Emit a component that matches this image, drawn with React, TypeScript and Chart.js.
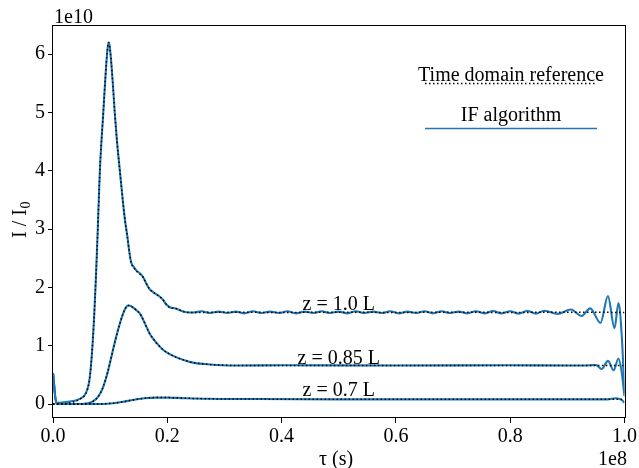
import React, { useEffect, useRef } from "react";
import { Chart, registerables } from "chart.js";
Chart.register(...registerables);

const FONT = '"Liberation Serif", "Times New Roman", serif';

// τ in units of 1e8 s, I/I0 in units of 1e10
const xTicks = [0, 0.2, 0.4, 0.6, 0.8, 1.0];
const yTicks = [0, 1, 2, 3, 4, 5, 6];

const legendLabels = ["Time domain reference", "IF algorithm"];
const curveLabels = ["z = 1.0 L", "z = 0.85 L", "z = 0.7 L"];
const curveLabelY = [1.61, 0.686, 0.137];

// z = 1.0 L
const refX_z10 = [0, 0.02, 0.03, 0.04, 0.05, 0.055, 0.06, 0.064, 0.068, 0.072, 0.075, 0.078, 0.082, 0.088, 0.092, 0.095, 0.097, 0.099, 0.102, 0.105, 0.108, 0.112, 0.117, 0.122, 0.126, 0.13, 0.134, 0.137, 0.142, 0.146, 0.152, 0.158, 0.163, 0.169, 0.175, 0.181, 0.187, 0.193, 0.198, 0.204, 0.21, 0.216, 0.224, 0.233, 0.245, 0.3, 0.4, 0.5, 0.6, 0.7, 0.8, 0.9, 1.0];
const refY_z10 = [0, 0.005, 0.02, 0.05, 0.1, 0.14, 0.24, 0.42, 0.85, 1.5, 2.15, 2.9, 4.0, 5.0, 5.65, 6.05, 6.2, 6.15, 5.85, 5.45, 5.0, 4.5, 4.0, 3.5, 3.15, 2.88, 2.58, 2.42, 2.33, 2.28, 2.23, 2.17, 2.07, 1.97, 1.92, 1.88, 1.84, 1.78, 1.71, 1.66, 1.645, 1.635, 1.6, 1.575, 1.57, 1.575, 1.57, 1.575, 1.57, 1.575, 1.57, 1.575, 1.57];

const ifX_z10 = [0, 0.006, 0.02, 0.035, 0.045, 0.055, 0.06, 0.064, 0.068, 0.072, 0.075, 0.078, 0.082, 0.088, 0.092, 0.095, 0.097, 0.099, 0.102, 0.105, 0.108, 0.112, 0.117, 0.122, 0.126, 0.13, 0.134, 0.137, 0.142, 0.146, 0.152, 0.158, 0.163, 0.169, 0.175, 0.181, 0.187, 0.193, 0.198, 0.204, 0.21, 0.216, 0.224, 0.233, 0.245,
  0.26, 0.275, 0.29, 0.305, 0.32, 0.335, 0.35, 0.365, 0.38, 0.395,
  0.41, 0.425, 0.44, 0.455, 0.47, 0.485, 0.5, 0.515, 0.53, 0.545,
  0.56, 0.575, 0.59, 0.605, 0.62, 0.635, 0.65, 0.665, 0.68, 0.695,
  0.71, 0.725, 0.74, 0.755, 0.77, 0.785, 0.8, 0.815, 0.83, 0.845,
  0.86, 0.883, 0.906, 0.925, 0.94, 0.958, 0.971, 0.9825, 0.9895, 0.995, 1.0];
const ifY_z10 = [0.53, 0.02, 0.03, 0.05, 0.08, 0.15, 0.25, 0.43, 0.85, 1.5, 2.15, 2.9, 4.0, 5.0, 5.65, 6.05, 6.2, 6.15, 5.85, 5.45, 5.0, 4.5, 4.0, 3.5, 3.15, 2.88, 2.58, 2.42, 2.34, 2.29, 2.24, 2.17, 2.07, 1.97, 1.92, 1.88, 1.84, 1.78, 1.71, 1.66, 1.645, 1.635, 1.6, 1.575, 1.57,
  1.59, 1.56, 1.585, 1.56, 1.585, 1.555, 1.59, 1.56, 1.585, 1.56,
  1.59, 1.555, 1.585, 1.56, 1.59, 1.56, 1.585, 1.555, 1.59, 1.56,
  1.585, 1.56, 1.59, 1.555, 1.585, 1.56, 1.59, 1.555, 1.59, 1.56,
  1.585, 1.555, 1.59, 1.555, 1.595, 1.555, 1.59, 1.55, 1.595, 1.55,
  1.6, 1.545, 1.62, 1.51, 1.64, 1.39, 1.85, 1.3, 1.73, 1.2, 0.19];

// z = 0.85 L
const refX_z085 = [0, 0.04, 0.055, 0.065, 0.075, 0.082, 0.088, 0.095, 0.1, 0.105, 0.11, 0.117, 0.123, 0.128, 0.1315, 0.136, 0.142, 0.147, 0.152, 0.16, 0.169, 0.18, 0.1925, 0.205, 0.216, 0.23, 0.245, 0.265, 0.286, 0.326, 0.4, 0.6, 0.8, 1.0];
const refY_z085 = [0, 0, 0.005, 0.02, 0.08, 0.17, 0.3, 0.52, 0.72, 0.93, 1.13, 1.38, 1.56, 1.66, 1.69, 1.68, 1.64, 1.6, 1.55, 1.4, 1.21, 1.06, 0.93, 0.85, 0.8, 0.75, 0.71, 0.685, 0.67, 0.66, 0.66, 0.66, 0.66, 0.66];

const ifX_z085 = [0, 0.006, 0.04, 0.055, 0.065, 0.075, 0.082, 0.088, 0.095, 0.1, 0.105, 0.11, 0.117, 0.123, 0.128, 0.1315, 0.136, 0.142, 0.147, 0.152, 0.16, 0.169, 0.18, 0.1925, 0.205, 0.216, 0.23, 0.245, 0.265, 0.286, 0.326, 0.4, 0.6, 0.8, 0.9, 0.94, 0.95, 0.96, 0.971, 0.981, 0.9895, 0.995, 1.0];
const ifY_z085 = [0.53, 0.0, 0.0, 0.005, 0.02, 0.08, 0.17, 0.3, 0.52, 0.72, 0.93, 1.13, 1.38, 1.56, 1.66, 1.69, 1.68, 1.64, 1.6, 1.55, 1.4, 1.21, 1.06, 0.93, 0.85, 0.8, 0.75, 0.71, 0.685, 0.67, 0.66, 0.665, 0.66, 0.665, 0.66, 0.665, 0.67, 0.6, 0.74, 0.58, 0.78, 0.55, 0.13];

// z = 0.7 L
const refX_z07 = [0, 0.08, 0.1, 0.12, 0.14, 0.16, 0.18, 0.2, 0.23, 0.27, 0.35, 0.5, 0.7, 0.9, 1.0];
const refY_z07 = [0, 0, 0.01, 0.035, 0.07, 0.1, 0.11, 0.11, 0.1, 0.09, 0.085, 0.08, 0.08, 0.08, 0.08];

const ifX_z07 = [0, 0.006, 0.08, 0.1, 0.12, 0.14, 0.16, 0.18, 0.2, 0.23, 0.27, 0.35, 0.5, 0.7, 0.9, 0.97, 0.985, 0.995, 1.0];
const ifY_z07 = [0.53, 0.0, 0, 0.01, 0.035, 0.07, 0.1, 0.11, 0.11, 0.1, 0.09, 0.085, 0.08, 0.08, 0.08, 0.08, 0.1, 0.07, 0.02];

const BLUE = "#1f77b4";

function pts(xs: number[], ys: number[]) {
  return xs.map((x, i) => ({ x, y: ys[i] }));
}

export default function App() {
  const ref = useRef<HTMLCanvasElement>(null);
  useEffect(() => {
    const textPlugin = {
      id: "texts",
      afterDraw(chart: any) {
        const { ctx, chartArea: a, scales } = chart;
        const xs = scales.x;
        const ys = scales.y;
        ctx.save();
        // frame
        ctx.strokeStyle = "#000";
        ctx.lineWidth = 1;
        ctx.setLineDash([]);
        ctx.strokeRect(Math.round(a.left) - 0.5, Math.round(a.top) + 0.5, Math.round(a.right - a.left) + 1, Math.round(a.bottom - a.top) - 1);

        ctx.fillStyle = "#000";
        ctx.font = `20px ${FONT}`;
        ctx.textBaseline = "alphabetic";

        // curve labels
        ctx.textAlign = "center";
        const cx = xs.getPixelForValue(0.5);
        curveLabels.forEach((t, i) => {
          ctx.fillText(t, cx, ys.getPixelForValue(curveLabelY[i]));
        });

        // legend
        ctx.fillText(legendLabels[0], 511, 81);
        ctx.fillText(legendLabels[1], 511, 121);
        ctx.lineWidth = 1.5;
        ctx.strokeStyle = "#000";
        ctx.setLineDash([1.5, 2.5]);
        ctx.beginPath();
        ctx.moveTo(425, 83.5);
        ctx.lineTo(597, 83.5);
        ctx.stroke();
        ctx.setLineDash([]);
        ctx.strokeStyle = BLUE;
        ctx.beginPath();
        ctx.moveTo(425, 128.5);
        ctx.lineTo(597, 128.5);
        ctx.stroke();

        // offset texts
        ctx.textAlign = "left";
        ctx.fillText("1e10", 54, 23);
        ctx.textAlign = "right";
        ctx.fillText("1e8", 627, 465);

        // x title
        ctx.textAlign = "center";
        ctx.fillText("τ (s)", 336, 465);

        // y title with subscript
        ctx.translate(26, 238);
        ctx.rotate(-Math.PI / 2);
        ctx.textAlign = "left";
        ctx.font = `20px ${FONT}`;
        const main = "I / I";
        ctx.fillText(main, 0, 0);
        const w = ctx.measureText(main).width;
        ctx.font = `14px ${FONT}`;
        ctx.fillText("0", w + 0.5, 4);
        ctx.restore();
      },
    };

    const line = (data: any, color: string, dashed: boolean) => ({
      data,
      borderColor: color,
      borderWidth: dashed ? 1.5 : 2.1,
      borderDash: dashed ? [1.5, 2.5] : [],
      pointRadius: 0,
      fill: false,
      cubicInterpolationMode: "monotone" as const,
      order: dashed ? 0 : 1,
    });

    const chart = new Chart(ref.current as HTMLCanvasElement, {
      type: "line",
      data: {
        datasets: [
          line(pts(ifX_z10, ifY_z10), BLUE, false),
          line(pts(ifX_z085, ifY_z085), BLUE, false),
          line(pts(ifX_z07, ifY_z07), BLUE, false),
          line(pts(refX_z10, refY_z10), "#000", true),
          line(pts(refX_z085, refY_z085), "#000", true),
          line(pts(refX_z07, refY_z07), "#000", true),
        ],
      },
      options: {
        responsive: false,
        animation: false,
        devicePixelRatio: 1,
        layout: { padding: { left: 0, right: 14, top: 25, bottom: 0 } },
        plugins: { legend: { display: false }, tooltip: { enabled: false } },
        scales: {
          x: {
            type: "linear",
            min: 0,
            max: 1,
            afterBuildTicks: (s: any) => {
              s.ticks = xTicks.map((v) => ({ value: v }));
            },
            afterFit: (s: any) => {
              s.height = 50;
            },
            ticks: {
              callback: (v: any) => Number(v).toFixed(1),
              font: { family: FONT, size: 20 },
              color: "#000",
              padding: 2,
              maxRotation: 0,
              autoSkip: false,
            },
            grid: { drawOnChartArea: false, drawTicks: true, tickLength: 5, color: "#000", lineWidth: 1 },
            border: { display: false },
          },
          y: {
            type: "linear",
            min: -0.24,
            max: 6.5,
            afterBuildTicks: (s: any) => {
              s.ticks = yTicks.map((v) => ({ value: v }));
            },
            afterFit: (s: any) => {
              s.width = 53;
            },
            ticks: {
              callback: (v: any) => String(v),
              font: { family: FONT, size: 20 },
              color: "#000",
              padding: 3,
              autoSkip: false,
            },
            grid: { drawOnChartArea: false, drawTicks: true, tickLength: 5, color: "#000", lineWidth: 1 },
            border: { display: false },
          },
        },
      },
      plugins: [textPlugin],
    });
    return () => chart.destroy();
  }, []);

  return (
    <div style={{ position: "fixed", left: 0, top: 0, width: 639, height: 468, background: "#fff" }}>
      <canvas ref={ref} width={639} height={468} style={{ display: "block", width: 639, height: 468 }} />
    </div>
  );
}
